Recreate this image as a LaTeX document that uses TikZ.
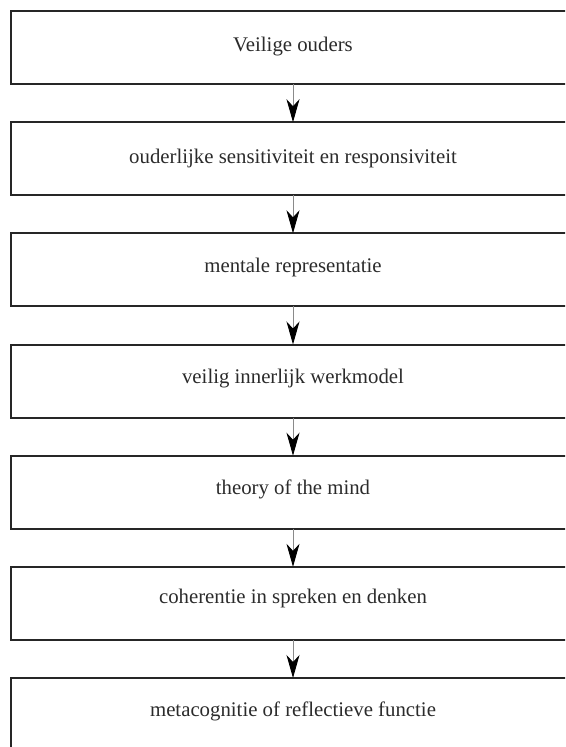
\documentclass[tikz,border=0pt]{standalone}
\usepackage{fontspec}
\setmainfont{Liberation Serif}
\usetikzlibrary{arrows.meta}
\definecolor{boxc}{HTML}{262626}
\definecolor{txtc}{HTML}{2B2B2B}
\definecolor{shaftc}{HTML}{8A8A8A}
\tikzset{
  box/.style={draw=boxc, line width=2pt, minimum width=564pt, minimum height=73pt, inner sep=0pt, outer sep=0pt},
  lab/.style={text=txtc, font=\fontsize{20.8}{24}\selectfont, anchor=base, inner sep=0pt},
  conn/.style={draw=shaftc, line width=0.9pt, -{Stealth[length=23pt,width=13pt,inset=7pt,color=black]}}
}
\begin{document}
\begin{tikzpicture}[x=1pt,y=-1pt]
\useasboundingbox (0,0) rectangle (565,747);
\clip (0,0) rectangle (565,747);
\node[box] (b1) at (293, 47.5) {};
\node[box] (b2) at (293, 158.7) {};
\node[box] (b3) at (293, 269.8) {};
\node[box] (b4) at (293, 381.0) {};
\node[box] (b5) at (293, 492.2) {};
\node[box] (b6) at (293, 603.3) {};
\node[box] (b7) at (293, 714.5) {};
\node[lab] (t1) at (293, 51.0) {Veilige ouders};
\node[lab] (t2) at (293, 163.0) {ouderlijke sensitiviteit en responsiviteit};
\node[lab] (t3) at (293, 272.0) {mentale representatie};
\node[lab] (t4) at (293, 383.0) {veilig innerlijk werkmodel};
\node[lab] (t5) at (293, 494.0) {theory of the mind};
\node[lab] (t6) at (293, 603.3) {coherentie in spreken en denken};
\node[lab] (t7) at (293, 716.7) {metacognitie of reflectieve functie};
\draw[conn] (b1.south) -- (b2.north);
\draw[conn] (b2.south) -- (b3.north);
\draw[conn] (b3.south) -- (b4.north);
\draw[conn] (b4.south) -- (b5.north);
\draw[conn] (b5.south) -- (b6.north);
\draw[conn] (b6.south) -- (b7.north);
\end{tikzpicture}
\end{document}
